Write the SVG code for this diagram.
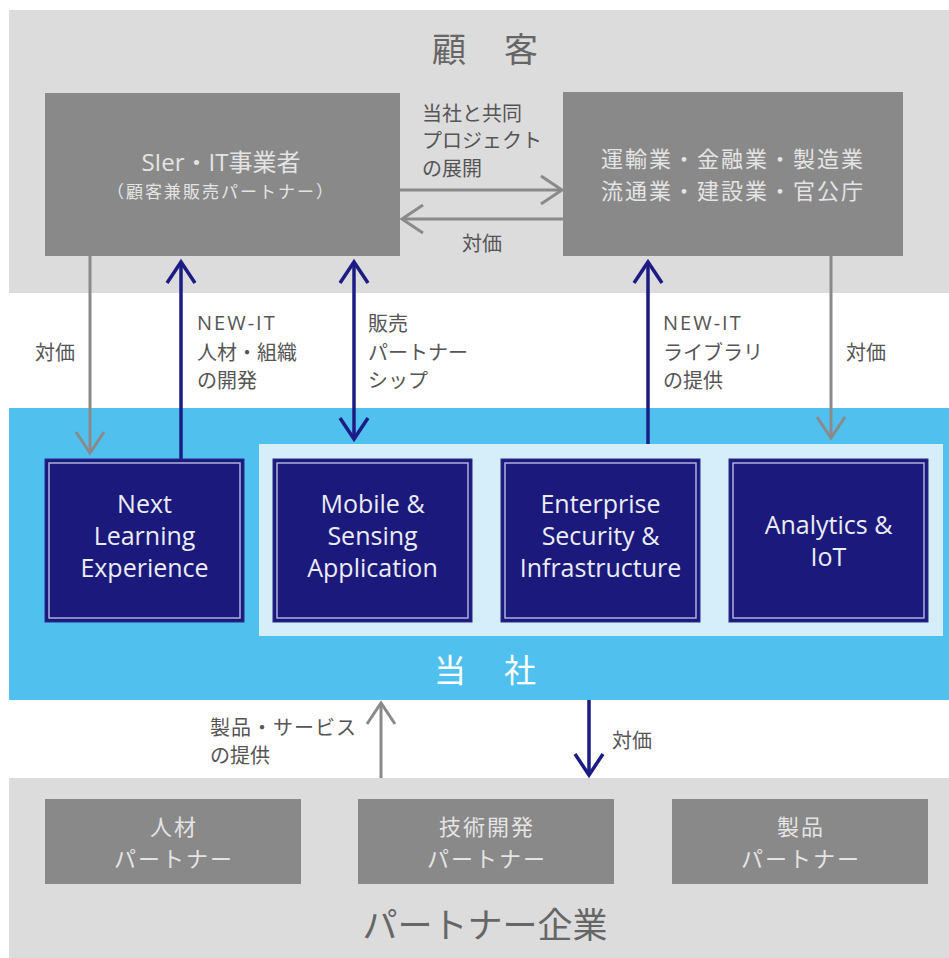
<svg xmlns="http://www.w3.org/2000/svg" width="949" height="958" viewBox="0 0 949 958">
<style>
.jp{font-family:"Noto Sans CJK JP","Noto Sans",sans-serif}
.lat{font-family:"Open Sans","Noto Sans CJK JP",sans-serif}
.title{font-size:34px;fill:#666}
.lbl{font-size:20px;fill:#555}
.gtxt{font-size:24px;fill:#e4e4e4}
.gtxt2{font-size:22px;fill:#e4e4e4;letter-spacing:2px}
.btxt{font-size:25px;fill:#ececf4;text-anchor:middle}
.mid{text-anchor:middle}
.gbox{fill:#898989}
.navy{fill:#1b1a7c;stroke:#2a2a8a;stroke-width:1}
.inner{fill:none;stroke:#aeb0dc;stroke-width:1.5}
.ga{fill:none;stroke:#8a8a8a;stroke-width:3}
.ba{fill:none;stroke:#1c1c84;stroke-width:3.5}
</style>
<defs>
<marker id="mg" markerUnits="userSpaceOnUse" markerWidth="34" markerHeight="36" viewBox="-28 -18 34 36" refX="0" refY="0" orient="auto-start-reverse">
<path d="M-21,-14 L0,0 L-21,14" fill="none" stroke="#8a8a8a" stroke-width="3"/>
</marker>
<marker id="mb" markerUnits="userSpaceOnUse" markerWidth="34" markerHeight="36" viewBox="-28 -18 34 36" refX="0" refY="0" orient="auto-start-reverse">
<path d="M-21,-14 L0,0 L-21,14" fill="none" stroke="#1c1c84" stroke-width="3.5"/>
</marker>
</defs>
<rect width="949" height="958" fill="#ffffff"/>
<g id="customer-region">
<rect x="9" y="10" width="940" height="283" fill="#dcdcdc"/>
<text class="jp title mid" x="449" y="62">顧</text>
<text class="jp title mid" x="521" y="62">客</text>
</g>
<g id="company-region">
<rect x="9" y="408" width="940" height="292" fill="#50c1ef"/>
<rect x="259" y="444" width="684" height="192" fill="#d5eefa"/>
<text class="jp mid" x="450" y="682" style="font-size:32px;fill:#ffffff">当</text>
<text class="jp mid" x="520" y="682" style="font-size:32px;fill:#ffffff">社</text>
</g>
<g id="partner-region">
<rect x="9" y="778" width="940" height="180" fill="#dcdcdc"/>
<text class="jp title mid" x="485" y="938" style="font-size:35px">パートナー企業</text>
</g>
<g id="connectors">
<line class="ga" x1="400" y1="190" x2="562" y2="190" marker-end="url(#mg)"/>
<line class="ga" x1="563" y1="219" x2="402" y2="219" marker-end="url(#mg)"/>
<line class="ga" x1="90" y1="256" x2="90" y2="453" marker-end="url(#mg)"/>
<line class="ga" x1="831" y1="256" x2="831" y2="438" marker-end="url(#mg)"/>
<line class="ba" x1="181" y1="459" x2="181" y2="262" marker-end="url(#mb)"/>
<line class="ba" x1="354" y1="262" x2="354" y2="439" marker-start="url(#mb)" marker-end="url(#mb)"/>
<line class="ba" x1="648" y1="444" x2="648" y2="262" marker-end="url(#mb)"/>
<line class="ga" x1="381" y1="778" x2="381" y2="703" marker-end="url(#mg)"/>
<line class="ba" x1="589" y1="700" x2="589" y2="775" marker-end="url(#mb)"/>
<g class="jp lbl">
<text x="422" y="121">当社と共同</text>
<text x="422" y="148">プロジェクト</text>
<text x="422" y="176">の展開</text>
<text x="482" y="251" text-anchor="middle">対価</text>
<text x="35" y="360">対価</text>
<text class="lat" x="197" y="330" style="letter-spacing:2px">NEW-IT</text>
<text x="197" y="360">人材・組織</text>
<text x="197" y="388">の開発</text>
<text x="368" y="331">販売</text>
<text x="368" y="360">パートナー</text>
<text x="368" y="388">シップ</text>
<text class="lat" x="663" y="330" style="letter-spacing:2px">NEW-IT</text>
<text x="663" y="360">ライブラリ</text>
<text x="663" y="388">の提供</text>
<text x="846" y="360">対価</text>
<text x="210" y="735" style="letter-spacing:1px">製品・サービス</text>
<text x="210" y="763">の提供</text>
<text x="612" y="748">対価</text>
</g>
</g>
<g id="sier">
<rect class="gbox" x="45" y="93" width="355" height="163"/>
<text class="lat gtxt mid" x="221" y="171">SIer・IT事業者</text>
<text class="jp mid" x="221" y="198" style="font-size:17px;fill:#e4e4e4;letter-spacing:2px">（顧客兼販売パートナー）</text>
</g>
<g id="industries">
<rect class="gbox" x="563" y="92" width="340" height="164"/>
<text class="jp gtxt2 mid" x="733" y="167">運輸業・金融業・製造業</text>
<text class="jp gtxt2 mid" x="733" y="199">流通業・建設業・官公庁</text>
</g>
<g id="next-learning">
<rect class="navy" x="45" y="459" width="199" height="163"/>
<rect class="inner" x="49" y="463" width="191" height="155"/>
<text class="lat btxt" x="144.5" y="513">Next</text>
<text class="lat btxt" x="144.5" y="545">Learning</text>
<text class="lat btxt" x="144.5" y="577">Experience</text>
</g>
<g id="mobile-sensing">
<rect class="navy" x="273" y="459" width="199" height="163"/>
<rect class="inner" x="277" y="463" width="191" height="155"/>
<text class="lat btxt" x="372.5" y="513">Mobile &amp;</text>
<text class="lat btxt" x="372.5" y="545">Sensing</text>
<text class="lat btxt" x="372.5" y="577">Application</text>
</g>
<g id="enterprise-security">
<rect class="navy" x="501" y="459" width="199" height="163"/>
<rect class="inner" x="505" y="463" width="191" height="155"/>
<text class="lat btxt" x="600.5" y="513">Enterprise</text>
<text class="lat btxt" x="600.5" y="545">Security &amp;</text>
<text class="lat btxt" x="600.5" y="577">Infrastructure</text>
</g>
<g id="analytics-iot">
<rect class="navy" x="729" y="459" width="199" height="163"/>
<rect class="inner" x="733" y="463" width="191" height="155"/>
<text class="lat btxt" x="828.5" y="534">Analytics &amp;</text>
<text class="lat btxt" x="828.5" y="566">IoT</text>
</g>
<g id="hr-partner">
<rect class="gbox" x="45" y="799" width="256" height="85"/>
<text class="jp gtxt2 mid" x="174" y="835">人材</text>
<text class="jp gtxt2 mid" x="174" y="867">パートナー</text>
</g>
<g id="tech-partner">
<rect class="gbox" x="358" y="799" width="256" height="85"/>
<text class="jp gtxt2 mid" x="487" y="835">技術開発</text>
<text class="jp gtxt2 mid" x="487" y="867">パートナー</text>
</g>
<g id="product-partner">
<rect class="gbox" x="672" y="799" width="256" height="85"/>
<text class="jp gtxt2 mid" x="801" y="835">製品</text>
<text class="jp gtxt2 mid" x="801" y="867">パートナー</text>
</g>
</svg>
